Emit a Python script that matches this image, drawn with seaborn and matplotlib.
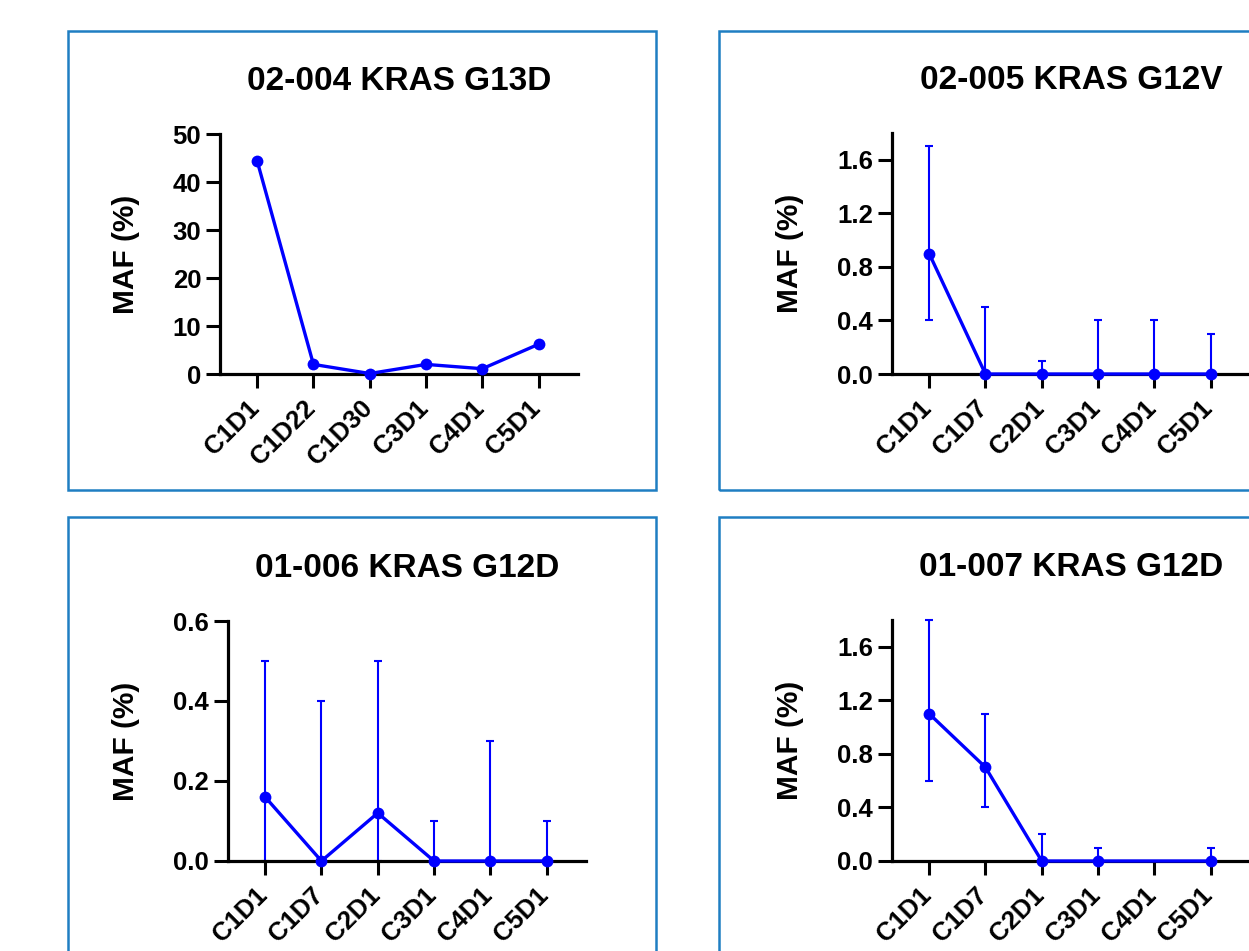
import numpy as np
import pandas as pd
import matplotlib
matplotlib.use("Agg")
import matplotlib.pyplot as plt
from matplotlib.patches import Rectangle
from matplotlib.ticker import FormatStrFormatter
from matplotlib.transforms import ScaledTranslation
import seaborn as sns

# ---- data ----
visits_004 = ["C1D1", "C1D22", "C1D30", "C3D1", "C4D1", "C5D1"]
maf_004 = [44.4, 2.0, 0.1, 2.0, 1.1, 6.2]

visits = ["C1D1", "C1D7", "C2D1", "C3D1", "C4D1", "C5D1"]

maf_005 = [0.9, 0.0, 0.0, 0.0, 0.0, 0.0]
low_005 = [0.4, 0.0, 0.0, 0.0, 0.0, 0.0]
high_005 = [1.7, 0.5, 0.1, 0.4, 0.4, 0.3]

maf_006 = [0.16, 0.0, 0.12, 0.0, 0.0, 0.0]
low_006 = [0.0, 0.0, 0.0, 0.0, 0.0, 0.0]
high_006 = [0.5, 0.4, 0.5, 0.1, 0.3, 0.1]

maf_007 = [1.1, 0.7, 0.0, 0.0, np.nan, 0.0]
low_007 = [0.6, 0.4, 0.0, 0.0, np.nan, 0.0]
high_007 = [1.8, 1.1, 0.2, 0.1, np.nan, 0.1]

titles = ["02-004 KRAS G13D", "02-005 KRAS G12V", "01-006 KRAS G12D", "01-007 KRAS G12D"]
yticks_004 = [0, 10, 20, 30, 40, 50]
yticks_16 = [0.0, 0.4, 0.8, 1.2, 1.6]
yticks_06 = [0.0, 0.2, 0.4, 0.6]

# ---- style ----
sns.set_style("ticks")
plt.rcParams["font.family"] = ["Liberation Sans", "DejaVu Sans"]
plt.rcParams["font.weight"] = "bold"
plt.rcParams["axes.titleweight"] = "bold"
plt.rcParams["axes.labelweight"] = "bold"
for key in ["text.color", "axes.labelcolor", "xtick.color", "ytick.color", "axes.edgecolor"]:
    plt.rcParams[key] = "black"

W, H = 1249, 951
fig = plt.figure(figsize=(W / 100, H / 100), dpi=100)
BLUE = "#0000ff"
FRAME = "#1f7ec2"


def px_axes(left, top, right, bottom):
    return fig.add_axes([left / W, 1 - bottom / H, (right - left) / W, (bottom - top) / H])


def frame(left, top, right, bottom):
    fig.add_artist(Rectangle((left / W, 1 - bottom / H), (right - left) / W, (bottom - top) / H,
                             transform=fig.transFigure, fill=False, edgecolor=FRAME, lw=1.8))


def panel(ax, labels, maf, low, high, title, yticks, ymax, fmt, label_x):
    df = pd.DataFrame({"pos": np.arange(len(labels)), "maf": maf})
    if low is not None:
        lo = np.array(low, dtype=float)
        hi = np.array(high, dtype=float)
        y = np.array(maf, dtype=float)
        ok = ~np.isnan(y)
        ax.errorbar(df["pos"][ok], y[ok], yerr=[y[ok] - lo[ok], hi[ok] - y[ok]], fmt="none",
                    ecolor=BLUE, elinewidth=1.5, capsize=2.8, capthick=1.5, clip_on=False, zorder=2)
    sns.lineplot(data=df.dropna(), x="pos", y="maf", ax=ax, color=BLUE, lw=2.4,
                 marker="o", markersize=8.5, markeredgewidth=0, clip_on=False, zorder=3)
    ax.set_xlim(-0.66, 5.7)
    ax.set_ylim(0, ymax)
    ax.set_xticks(np.arange(len(labels)))
    ax.set_yticks(yticks)
    ax.yaxis.set_major_formatter(FormatStrFormatter(fmt))
    ax.tick_params(axis="y", labelsize=18.5, length=10, width=2.2, pad=3.5)
    ax.tick_params(axis="x", length=10, width=2.2, pad=6)
    ax.set_xticklabels(labels, rotation=45, ha="right", fontsize=18.5)
    shift = ScaledTranslation(7 / 100, 0, fig.dpi_scale_trans)
    for t in ax.get_xticklabels():
        t.set_transform(t.get_transform() + shift)
    sns.despine(ax=ax)
    for s in ["left", "bottom"]:
        ax.spines[s].set_linewidth(2.3)
    ax.set_xlabel("")
    ax.set_ylabel("MAF (%)", fontsize=21.5)
    ax.yaxis.set_label_coords(label_x, 0.5)
    ax.set_title(title, fontsize=24, pad=32)


frame(68, 31, 656, 490)
frame(719, 31, 1320, 490)
frame(68, 517, 656, 1010)
frame(719, 517, 1320, 1010)

ax1 = px_axes(220, 134, 578, 374)
panel(ax1, visits_004, maf_004, None, None, titles[0], yticks_004, 50, "%d", (140 - 220) / 358)

ax2 = px_axes(892, 133, 1250, 374)
panel(ax2, visits, maf_005, low_005, high_005, titles[1], yticks_16, 1.8, "%.1f", (804 - 892) / 358)

ax3 = px_axes(228, 621, 586, 861)
panel(ax3, visits, maf_006, low_006, high_006, titles[2], yticks_06, 0.6, "%.1f", (140 - 228) / 358)

ax4 = px_axes(892, 620, 1250, 861)
panel(ax4, visits, maf_007, low_007, high_007, titles[3], yticks_16, 1.8, "%.1f", (804 - 892) / 358)

fig.savefig("out.png", dpi=100)
